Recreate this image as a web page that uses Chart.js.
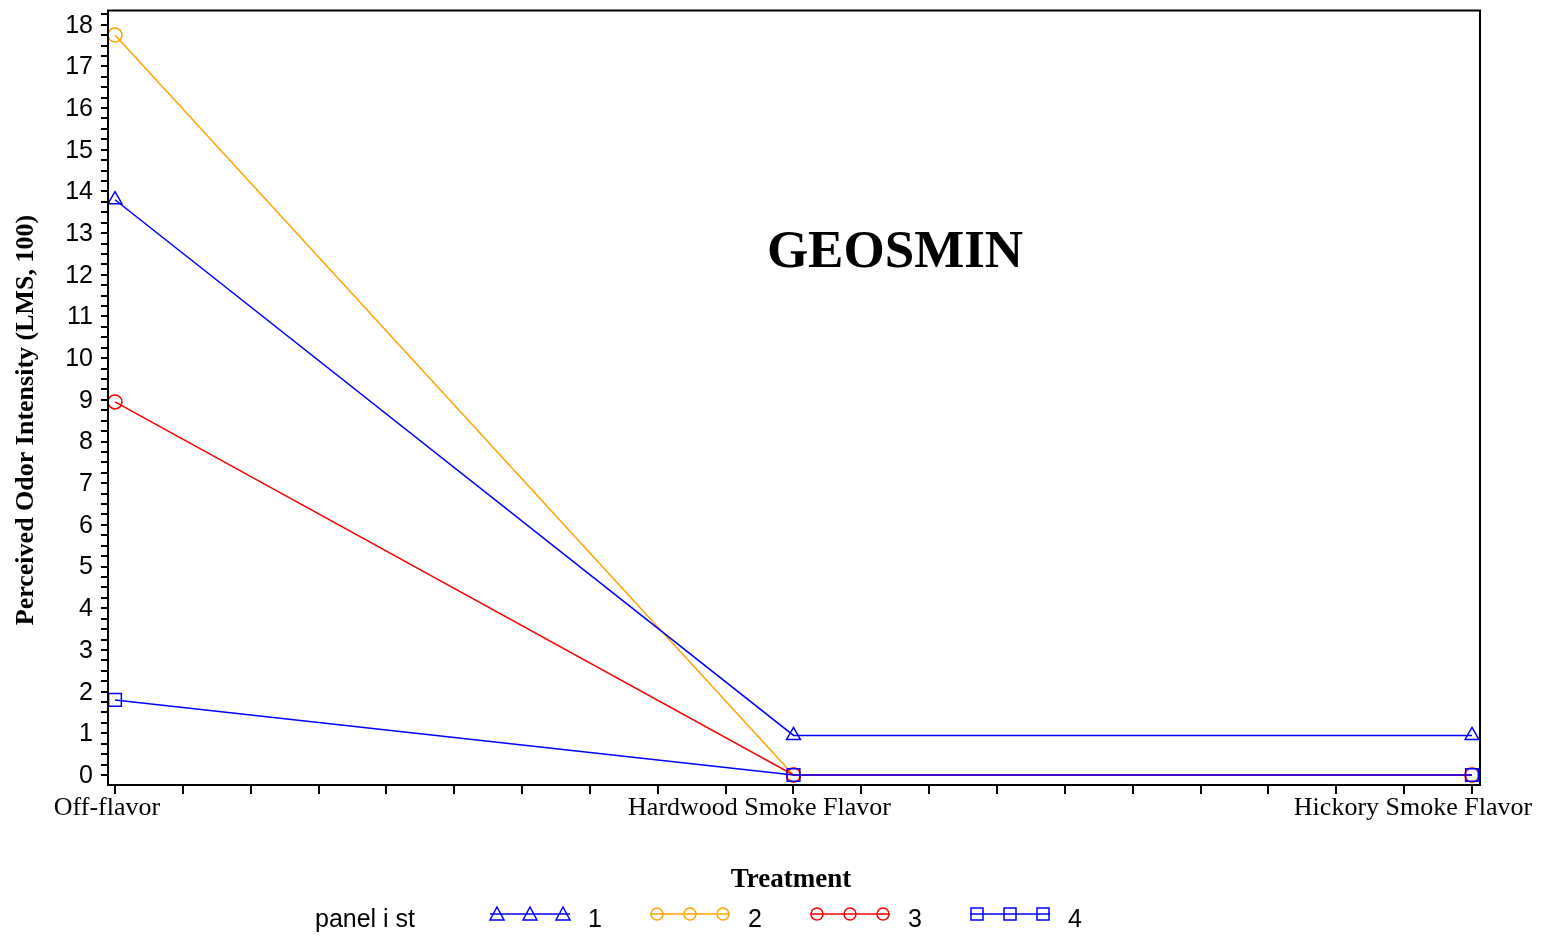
<!DOCTYPE html>
<html><head><meta charset="utf-8">
<script src="https://cdn.jsdelivr.net/npm/chart.js@4/dist/chart.umd.min.js"></script>
<style>html,body{margin:0;padding:0;background:#fff}#w{width:1541px;height:936px}</style>
</head><body><div id="w"><canvas id="c"></canvas></div>
<script>
const categories = ["Off-flavor","Hardwood Smoke Flavor","Hickory Smoke Flavor"];
const panelists = ["1","2","3","4"];
const p1 = [13.8, 0.95, 0.95];
const p2 = [17.75, 0, 0];
const p3 = [8.95, 0, 0];
const p4 = [1.8, 0, 0];
const colors = ["#0000ff","#ffa500","#ff0000","#0000ff"];
const styles = ["triangle","circle","circle","rect"];
const radii = [8,7,7,9];
const orders = [1,3,2,0];
const series = [p1,p2,p3,p4];

const datasets = series.map((s,i)=>({
  label: panelists[i], order: orders[i],
  data: s.map((v,j)=>({x:j,y:v})),
  borderColor: colors[i], backgroundColor: 'rgba(0,0,0,0)',
  borderWidth: 1.5, pointStyle: styles[i], pointRadius: radii[i], pointBorderWidth: 1.5,
  pointBorderColor: colors[i], pointBackgroundColor:'rgba(0,0,0,0)'
}));

const deco = {
  id:'deco',
  afterDraw(ch){
    const c=ch.ctx, a=ch.chartArea, xs_=ch.scales.x, ys_=ch.scales.y;
    c.save();
    c.strokeStyle='#000'; c.lineWidth=2;
    c.strokeRect(a.left,a.top,a.right-a.left,a.bottom-a.top);
    c.fillStyle='#000';
    c.font='25px "Liberation Sans"'; c.textAlign='right'; c.textBaseline='middle';
    for(let v=0; v<=18; v++) c.fillText(String(v), 93, ys_.getPixelForValue(v)+1);
    c.font='26px "Liberation Serif"'; c.textAlign='center'; c.textBaseline='top';
    const offs=[-8,-34,-59];
    categories.forEach((t,i)=>c.fillText(t,xs_.getPixelForValue(i)+offs[i],795));
    c.textBaseline='middle';
    c.font='bold 53px "Liberation Serif"';
    c.fillText('GEOSMIN',895,253);
    c.font='bold 27px "Liberation Serif"';
    c.fillText('Treatment',791,880);
    c.save(); c.translate(26,420); c.rotate(-Math.PI/2);
    c.font='bold 26px "Liberation Serif"'; c.fillText('Perceived Odor Intensity (LMS, 100)',0,0);
    c.restore();
    c.font='25px "Liberation Sans"'; c.textAlign='left';
    c.fillText('panel i st',315,920);
    const xs=[490,650,810,970];
    xs.forEach((x0,i)=>{
      c.strokeStyle=colors[i]; c.lineWidth=1.5;
      c.beginPath(); c.moveTo(x0,914); c.lineTo(x0+80,914); c.stroke();
      [x0+7,x0+40,x0+73].forEach(px=>{
        c.beginPath();
        if(styles[i]==='triangle'){c.moveTo(px,907);c.lineTo(px+7,920);c.lineTo(px-7,920);c.closePath();}
        else if(styles[i]==='circle'){c.arc(px,914,6,0,Math.PI*2);}
        else {c.rect(px-6,908,12,12);}
        c.stroke();
      });
      c.fillStyle='#000';
      c.fillText(panelists[i],x0+98,920);
    });
    c.restore();
  }
};

new Chart(document.getElementById('c'),{
  type:'line',
  data:{datasets},
  options:{
    responsive:true, maintainAspectRatio:false, animation:false,
    layout:{padding:{top:10,right:61,left:0,bottom:0}},
    plugins:{legend:{display:false},tooltip:{enabled:false}},
    scales:{
      x:{type:'linear',min:-0.0103,max:2.0118,
        afterBuildTicks(s){const t=[];for(let i=0;i<=20;i++)t.push({value:i/10});s.ticks=t;},
        afterFit(s){s.height=151;},
        grid:{drawOnChartArea:false,tickLength:9,color:'#000',lineWidth:2},
        border:{display:false},
        ticks:{display:false}
      },
      y:{min:-0.24,max:18.34,
        afterBuildTicks(s){const t=[];for(let i=0;i<=73;i++)t.push({value:i/4});s.ticks=t;},
        afterFit(s){s.width=108;},
        grid:{drawOnChartArea:false,tickLength:7,color:'#000',lineWidth:2},
        border:{display:false},
        ticks:{display:false}
      }
    }
  },
  plugins:[deco]
});
</script></body></html>
